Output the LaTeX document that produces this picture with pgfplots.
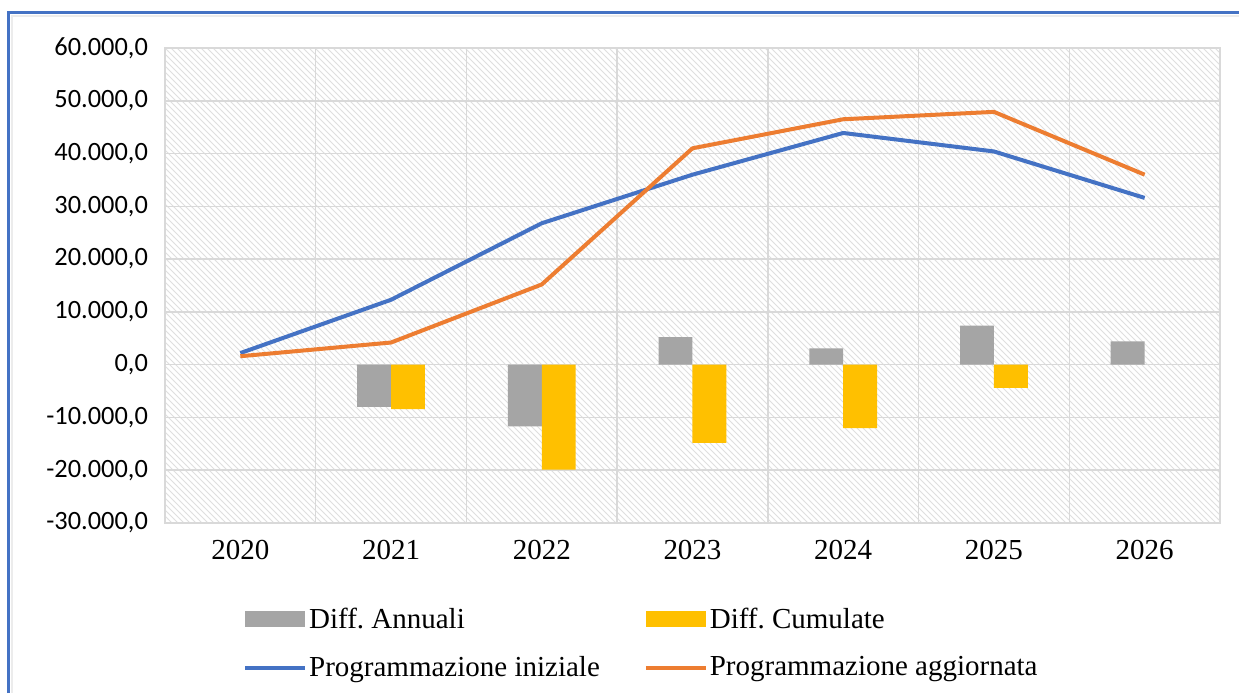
\documentclass[border=0pt]{standalone}
\usepackage{pgfplots}
\pgfplotsset{compat=1.18}
\usepackage{fontspec}
\setmainfont{Liberation Serif}
\newfontfamily\carlito{Carlito}
\usetikzlibrary{patterns}
\definecolor{cgray}{HTML}{A5A5A5}
\definecolor{cyel}{HTML}{FFC000}
\definecolor{cblue}{HTML}{4472C4}
\definecolor{corange}{HTML}{ED7D31}
\definecolor{gridc}{HTML}{D9D9D9}
\frenchspacing
\begin{document}
\begin{tikzpicture}
\begin{axis}[
  at={(0pt,0pt)}, anchor=south west,
  scale only axis, width=527.5pt, height=237.5pt,
  xmin=-0.5, xmax=6.5, ymin=-30000, ymax=60000,
  scaled y ticks=false,
  xtick={0,1,2,3,4,5,6},
  xticklabels={2020,2021,2022,2023,2024,2025,2026},
  minor xtick={-0.5,0.5,1.5,2.5,3.5,4.5,5.5,6.5},
  ytick={-30000,-20000,-10000,0,10000,20000,30000,40000,50000,60000},
  yticklabels={-30.000{,}0,-20.000{,}0,-10.000{,}0,0{,}0,10.000{,}0,20.000{,}0,30.000{,}0,40.000{,}0,50.000{,}0,60.000{,}0},
  ymajorgrids, xminorgrids,
  grid style={gridc, line width=0.75pt},
  minor grid style={gridc, line width=0.75pt},
  axis line style={gridc, line width=0.75pt},
  major tick length=0pt, minor tick length=0pt,
  tick style={draw=none},
  yticklabel style={font=\carlito\fontsize{13.2}{15}\selectfont, xshift=-5pt},
  xticklabel style={font=\fontsize{14.5}{17}\selectfont, yshift=-5pt},
  axis background/.style={fill=white, postaction={pattern=north west lines, pattern color=gray!25}},
  legend style={at={(axis description cs:0.068,-0.165)}, anchor=north west, draw=none, fill=none,
    font=\fontsize{14.5}{17}\selectfont, legend columns=2,
    nodes={inner sep=1pt}, row sep=10.5pt,
    /tikz/every even column/.append style={column sep=21pt}},
  legend cell align=left,
]
\addplot[ybar, bar width=0.225, bar shift=-0.1125, fill=cgray, draw=none,
  legend image code/.code={\fill[cgray] (0pt,-4pt) rectangle (30pt,4pt);}]
  coordinates {(1,-8000) (2,-11700) (3,5200) (4,3100) (5,7400) (6,4400)};
\addlegendentry{Diff. Annuali}
\addplot[ybar, bar width=0.225, bar shift=0.1125, fill=cyel, draw=none,
  legend image code/.code={\fill[cyel] (0pt,-4pt) rectangle (30pt,4pt);}]
  coordinates {(1,-8400) (2,-19900) (3,-14800) (4,-12000) (5,-4400)};
\addlegendentry{Diff. Cumulate}
\addplot[cblue, line width=2pt, mark=none, line join=round,
  legend image code/.code={\draw[cblue, line width=2pt] (0pt,0pt) -- (30pt,0pt);}]
  coordinates {(0,2200) (1,12300) (2,26800) (3,36000) (4,43900) (5,40400) (6,31600)};
\addlegendentry{Programmazione iniziale}
\addplot[corange, line width=2pt, mark=none, line join=round,
  legend image code/.code={\draw[corange, line width=2pt] (0pt,0pt) -- (30pt,0pt);}]
  coordinates {(0,1600) (1,4200) (2,15200) (3,41000) (4,46500) (5,47900) (6,36000)};
\addlegendentry{Programmazione aggiornata}
\end{axis}
\draw[gray!15, line width=1pt] (-76.7pt,-85pt) -- (-76.7pt,253.7pt) -- (537pt,253.7pt);
\draw[cblue, line width=1.5pt] (-78pt,-85pt) -- (-78pt,255.2pt) -- (537pt,255.2pt);
\pgfresetboundingbox
\useasboundingbox (-82.5pt,-85pt) rectangle (537pt,261.5pt);
\end{tikzpicture}
\end{document}
